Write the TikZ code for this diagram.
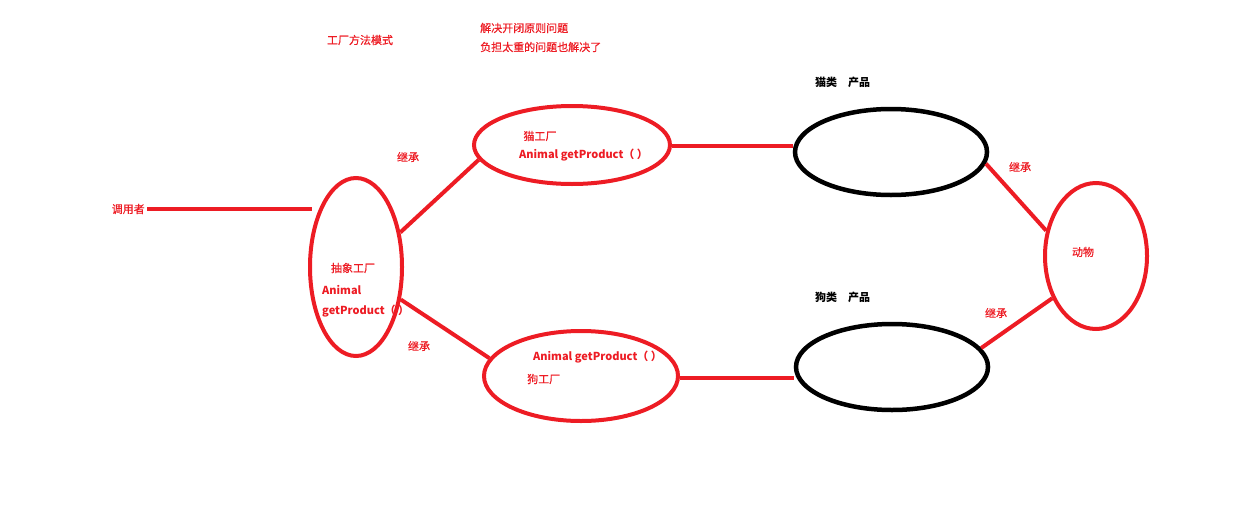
\documentclass[tikz,border=0pt]{standalone}
\usepackage{fontspec}
\setmainfont{Noto Sans CJK SC}
\newfontfamily\medcjk[FakeBold=0.6]{Noto Sans CJK SC}
\usetikzlibrary{shapes.geometric}
\definecolor{pred}{HTML}{ED1C24}
\begin{document}
\begin{tikzpicture}[x=1pt,y=-1pt,
  redell/.style={ellipse,draw=pred,line width=4pt,inner sep=0pt},
  blkell/.style={ellipse,draw=black,line width=4.5pt,inner sep=0pt},
  link/.style={draw=pred,line width=4pt},
  lbl/.style={text=pred,font=\fontsize{11}{13}\selectfont\medcjk,inner sep=0pt},
  blbl/.style={text=pred,font=\fontsize{11}{13}\selectfont\bfseries,inner sep=0pt},
  klbl/.style={text=black,font=\fontsize{11}{13}\selectfont\bfseries,inner sep=0pt}]
\useasboundingbox (0,0) rectangle (1238,525);
% ellipses
\node[redell,minimum width=92pt,minimum height=178pt] (abs) at (356,267) {};
\node[redell,minimum width=196pt,minimum height=78pt] (cat) at (572,145) {};
\node[redell,minimum width=194pt,minimum height=90pt] (dog) at (581,376) {};
\node[blkell,minimum width=192pt,minimum height=86pt] (catp) at (891,152) {};
\node[blkell,minimum width=192pt,minimum height=86pt] (dogp) at (892,367) {};
\node[redell,minimum width=102pt,minimum height=146pt] (ani) at (1096,256) {};
% texts
\node[lbl] (title) at (360,40) {工厂方法模式};
\node[lbl,anchor=west] (note1) at (480,28) {解决开闭原则问题};
\node[lbl,anchor=west] (note2) at (480,47) {负担太重的问题也解决了};
\node[klbl,anchor=west] (catlbl) at (815,82) {猫类　产品};
\node[klbl,anchor=west] (doglbl) at (815,297) {狗类　产品};
\node[lbl] (inh1) at (408,157) {继承};
\node[lbl] (inh2) at (419,346) {继承};
\node[lbl] (inh3) at (1020,167) {继承};
\node[lbl] (inh4) at (996,313) {继承};
\node[lbl,anchor=east] (caller) at (145,209) {调用者};
\node[lbl] (abst) at (353,268) {抽象工厂};
\node[blbl,anchor=west] (absa) at (322,290) {Animal};
\node[blbl,anchor=west] (absg) at (322,311) {getProduct（ ）};
\node[lbl] (catt) at (540,136) {猫工厂};
\node[blbl,anchor=west] (catg) at (519,155) {Animal getProduct（ ）};
\node[blbl,anchor=west] (dogg) at (533,357) {Animal getProduct（ ）};
\node[lbl,anchor=west] (dogt) at (527,379) {狗工厂};
\node[lbl] (anit) at (1083,252) {动物};
% connectors
\draw[link] ([xshift=2pt]caller.east) -- ([xshift=4pt]caller.east -| abs.west);
\draw[link] (abs.38) -- (cat.189);
\draw[link] (abs.-36) -- (dog.169);
\draw[link] ([yshift=-1pt]cat.east) -- ([yshift=-1pt]cat.east -| catp.west);
\draw[link] ([yshift=-2pt]dog.east) -- ([yshift=-2pt]dog.east -| dogp.west);
\draw[link] (catp.-7) -- (ani.153);
\draw[link] (dogp.12) -- (ani.224);
\end{tikzpicture}
\end{document}
